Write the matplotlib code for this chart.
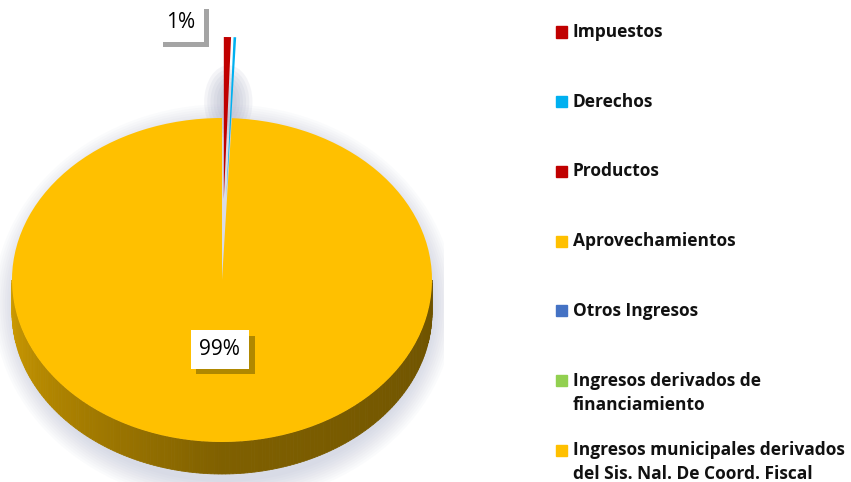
import numpy as np
import matplotlib.pyplot as plt
import matplotlib.patheffects as pe
from matplotlib.patches import Polygon, Ellipse, Rectangle
from matplotlib.colors import to_rgb

# ---- data ----
categories = ["Impuestos", "Derechos", "Productos", "Aprovechamientos", "Otros Ingresos",
              "Ingresos derivados de\nfinanciamiento",
              "Ingresos municipales derivados\ndel Sis. Nal. De Coord. Fiscal"]
values = [0.55, 0.2, 0.0, 0.0, 0.0, 0.0, 99.25]
colors = ["#C00000", "#00B0F0", "#C00000", "#FFC000", "#4472C4", "#92D050", "#FFC000"]
explode = [0.5, 0.5, 0.5, 0.5, 0.5, 0.5, 0.0]

W, H = 851, 482
fig = plt.figure(figsize=(W / 100, H / 100), dpi=100)

# pie geometry in pixels (top-left origin)
cx, cy = 222, 280
rx, ry = 210, 162
depth = 32
axw = 444

ax = fig.add_axes([0, 0, axw / W, 1])
d = depth / ry

# soft shadow round the disc (mostly sides and bottom)
for k in range(10):
    sh = Ellipse((0.01, -d * 0.6 - 0.03), 2 * (1.0 + 0.011 * k), 2 + d + 0.03 * k,
                 color="#8c93b8", alpha=0.035, lw=0, zorder=0)
    ax.add_patch(sh)

# side wall of the big slice (front half only), lighter on the left
base = np.array(to_rgb(colors[-1]))
th = np.linspace(np.pi, 2 * np.pi, 181)
for t0, t1 in zip(th[:-1], th[1:]):
    tm = np.degrees((t0 + t1) / 2)
    if tm < 270:
        f = 0.82 - (tm - 180) / 90 * 0.32
    else:
        f = 0.50 - (tm - 270) / 90 * 0.07
    pts = [(np.cos(t0), np.sin(t0)), (np.cos(t1), np.sin(t1)),
           (np.cos(t1), np.sin(t1) - d), (np.cos(t0), np.sin(t0) - d)]
    ax.add_patch(Polygon(pts, closed=True, color=tuple(base * f), lw=0.6, zorder=1))

wedges, _ = ax.pie(values, colors=colors, explode=explode, startangle=90,
                   counterclock=False, wedgeprops=dict(linewidth=0))
for w in wedges:
    w.set_zorder(3)

# grey haze behind the pulled-out sliver
for k in range(6):
    ax.add_patch(Ellipse((0.03, 1.1), 0.08 + 0.03 * k, 0.2 + 0.05 * k,
                         color="#a8acc4", alpha=0.12, lw=0, zorder=2))

ax.set_xlim(-cx / rx, (axw - cx) / rx)
ax.set_ylim(-(H - cy) / ry, cy / ry)
ax.set_aspect("auto")
ax.axis("off")

# percentage labels
for w, v, e in zip(wedges, values, explode):
    pct = round(v)
    if pct < 1:
        continue
    mid = np.radians((w.theta1 + w.theta2) / 2)
    if e > 0:
        r = 1 + e
        x, y = r * np.cos(mid) - 0.155, r * np.sin(mid) + 0.09
        ha = "right"
        shc = "#9a9a9a"
    else:
        x, y = 0.43 * np.cos(mid), 0.43 * np.sin(mid)
        ha = "center"
        shc = "#a88200"
    t = ax.text(x, y, f"{pct}%", color="black", fontsize=15, family="Open Sans",
                ha=ha, va="center", zorder=6,
                bbox=dict(boxstyle="square,pad=0.42", fc="white", ec="none"))
    t.get_bbox_patch().set_path_effects(
        [pe.SimplePatchShadow(offset=(4, -4), shadow_rgbFace=shc, alpha=0.9), pe.Normal()])

# legend, drawn by hand
y0, step, lh = 32, 69.7, 24
for i, (lab, col) in enumerate(zip(categories, colors)):
    yc = y0 + step * i
    fig.patches.append(Rectangle((556 / W, 1 - (yc + 5.5) / H), 11 / W, 11 / H,
                                 transform=fig.transFigure, color=col, figure=fig))
    for j, line in enumerate(lab.split("\n")):
        fig.text(573 / W, 1 - (yc + lh * j) / H, line, va="center", ha="left",
                 fontsize=12.5, fontweight="bold", family="Open Sans", color="#111111")

fig.savefig("out.png", dpi=100)
